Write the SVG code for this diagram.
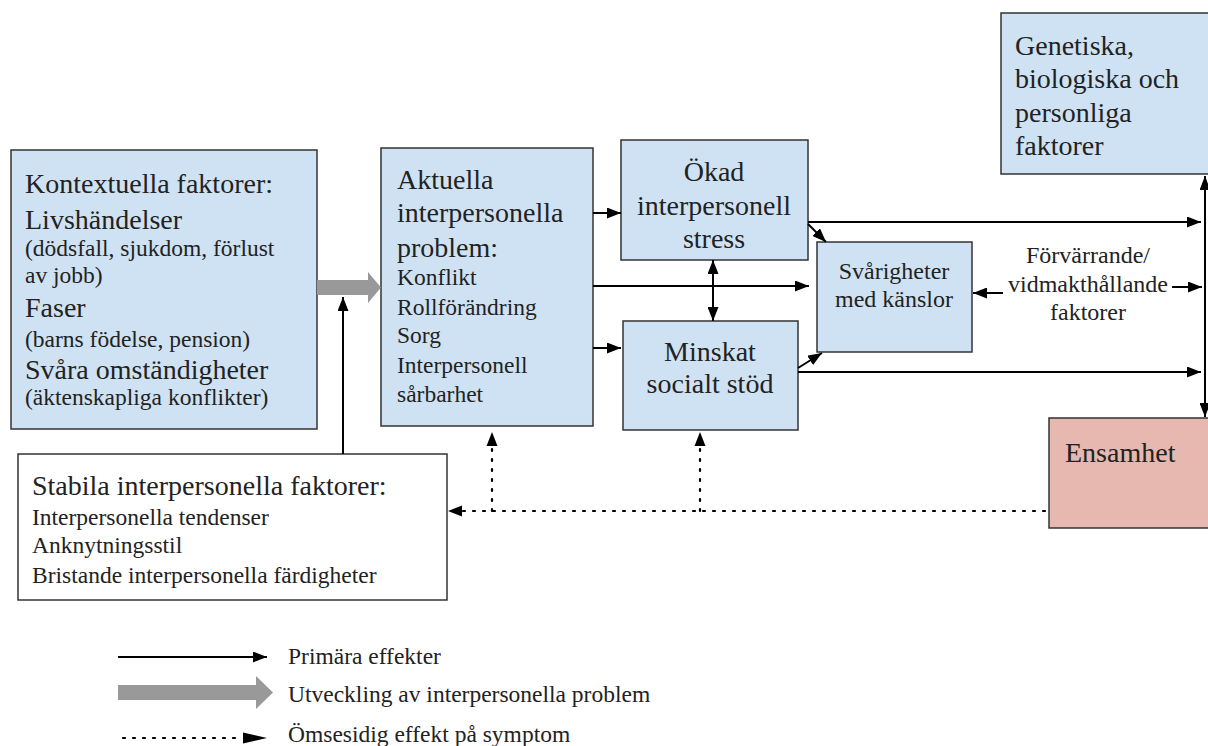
<svg xmlns="http://www.w3.org/2000/svg" width="1208" height="746" viewBox="0 0 1208 746">
<style>
.box{fill:#cfe2f3;stroke:#333;stroke-width:1.5}
.red{fill:#e6b8af;stroke:#333;stroke-width:1.5}
.white{fill:#fff;stroke:#333;stroke-width:1.5}
text{font-family:"Liberation Serif","Times New Roman",serif;fill:#222}
.b{font-size:28px}
.s{font-size:23.5px}
.m{font-size:24px}
.c{text-anchor:middle}
.ln{stroke:#000;stroke-width:2;fill:none}
.dot{stroke:#000;stroke-width:2.2;fill:none;stroke-dasharray:2 8;stroke-linecap:round}
</style>
<defs>
<marker id="ah" markerUnits="userSpaceOnUse" markerWidth="14" markerHeight="11" refX="14" refY="5.5" orient="auto-start-reverse" viewBox="0 0 14 11">
<path d="M0,0 L14,5.5 L0,11 z" fill="#000"/>
</marker>
</defs>
<rect width="1208" height="746" fill="#fff"/>

<g id="kontextuella">
<rect class="box" x="11" y="150" width="306" height="279"/>
<text class="b" x="25" y="193">Kontextuella faktorer:</text>
<text class="b" x="25" y="229">Livshändelser</text>
<text class="s" x="25" y="256">(dödsfall, sjukdom, förlust</text>
<text class="s" x="25" y="283">av jobb)</text>
<text class="b" x="25" y="317">Faser</text>
<text class="s" x="25" y="347">(barns födelse, pension)</text>
<text class="b" x="25" y="379">Svåra omständigheter</text>
<text class="s" x="25" y="405">(äktenskapliga konflikter)</text>
</g>

<g id="aktuella">
<rect class="box" x="381" y="148" width="212" height="278"/>
<text class="b" x="397" y="189">Aktuella</text>
<text class="b" x="397" y="222">interpersonella</text>
<text class="b" x="397" y="257">problem:</text>
<text class="s" x="397" y="285">Konflikt</text>
<text class="s" x="397" y="315">Rollförändring</text>
<text class="s" x="397" y="343">Sorg</text>
<text class="s" x="397" y="373">Interpersonell</text>
<text class="s" x="397" y="402">sårbarhet</text>
</g>

<g id="okad">
<rect class="box" x="621" y="140" width="187" height="120"/>
<text class="b c" x="714" y="181">Ökad</text>
<text class="b c" x="714" y="215">interpersonell</text>
<text class="b c" x="714" y="248">stress</text>
</g>

<g id="minskat">
<rect class="box" x="623" y="321" width="175" height="109"/>
<text class="b c" x="710" y="361">Minskat</text>
<text class="b c" x="710" y="393">socialt stöd</text>
</g>

<g id="svarigheter">
<rect class="box" x="817" y="242" width="155" height="110"/>
<text class="m c" x="894" y="279">Svårigheter</text>
<text class="m c" x="894" y="307">med känslor</text>
</g>

<g id="genetiska">
<rect class="box" x="1001" y="13" width="215" height="161"/>
<text class="b" x="1015" y="55">Genetiska,</text>
<text class="b" x="1015" y="88">biologiska och</text>
<text class="b" x="1015" y="122">personliga</text>
<text class="b" x="1015" y="155">faktorer</text>
</g>

<g id="ensamhet">
<rect class="red" x="1049" y="418" width="170" height="110"/>
<text class="b" x="1065" y="462">Ensamhet</text>
</g>

<g id="stabila">
<rect class="white" x="18" y="454" width="429" height="146"/>
<text class="b" x="32" y="495">Stabila interpersonella faktorer:</text>
<text class="s" x="32" y="525">Interpersonella tendenser</text>
<text class="s" x="32" y="553">Anknytningsstil</text>
<text class="s" x="32" y="583">Bristande interpersonella färdigheter</text>
</g>

<g id="forvarrande-label">
<text class="m c" x="1088" y="263">Förvärrande/</text>
<text class="m c" x="1088" y="292">vidmakthållande</text>
<text class="m c" x="1088" y="320">faktorer</text>
</g>

<g id="connectors">
<polygon points="317,280 368,280 368,272 381,287.5 368,303 368,295 317,295" fill="#999"/>
<line class="ln" x1="343" y1="454" x2="343" y2="297" marker-end="url(#ah)"/>
<line class="ln" x1="593" y1="213" x2="621" y2="213" marker-end="url(#ah)"/>
<line class="ln" x1="593" y1="286" x2="809" y2="286" marker-end="url(#ah)"/>
<line class="ln" x1="593" y1="348" x2="621" y2="348" marker-end="url(#ah)"/>
<line class="ln" x1="713" y1="260" x2="713" y2="321" marker-start="url(#ah)" marker-end="url(#ah)"/>
<line class="ln" x1="808" y1="222" x2="1201" y2="222" marker-end="url(#ah)"/>
<line class="ln" x1="808" y1="224" x2="826" y2="242" marker-end="url(#ah)"/>
<line class="ln" x1="798" y1="368" x2="822" y2="353" marker-end="url(#ah)"/>
<line class="ln" x1="798" y1="372" x2="1201" y2="372" marker-end="url(#ah)"/>
<line class="ln" x1="1003" y1="293" x2="973" y2="293" marker-end="url(#ah)"/>
<line class="ln" x1="1172" y1="287" x2="1202" y2="287" marker-end="url(#ah)"/>
<line class="ln" x1="1205" y1="176" x2="1205" y2="417" marker-start="url(#ah)" marker-end="url(#ah)"/>
<line class="dot" x1="1045" y1="511" x2="462" y2="511"/>
<path d="M462,505.5 L448,511 L462,516.5 z" fill="#000"/>
<line class="dot" x1="492" y1="511" x2="492" y2="446"/>
<path d="M486.5,446 L492,432 L497.5,446 z" fill="#000"/>
<line class="dot" x1="700" y1="511" x2="700" y2="446"/>
<path d="M694.5,446 L700,432 L705.5,446 z" fill="#000"/>
</g>

<g id="legend">
<line class="ln" x1="118" y1="657" x2="267" y2="657" marker-end="url(#ah)"/>
<text class="s" x="288" y="664">Primära effekter</text>
<polygon points="118,685 256,685 256,676 273,692.5 256,709 256,700 118,700" fill="#999"/>
<text class="s" x="288" y="702">Utveckling av interpersonella problem</text>
<line class="dot" x1="123" y1="738" x2="243" y2="738"/>
<path d="M243,732.5 L267,738 L243,743.5 z" fill="#000"/>
<text class="s" x="288" y="742">Ömsesidig effekt på symptom</text>
</g>
</svg>
